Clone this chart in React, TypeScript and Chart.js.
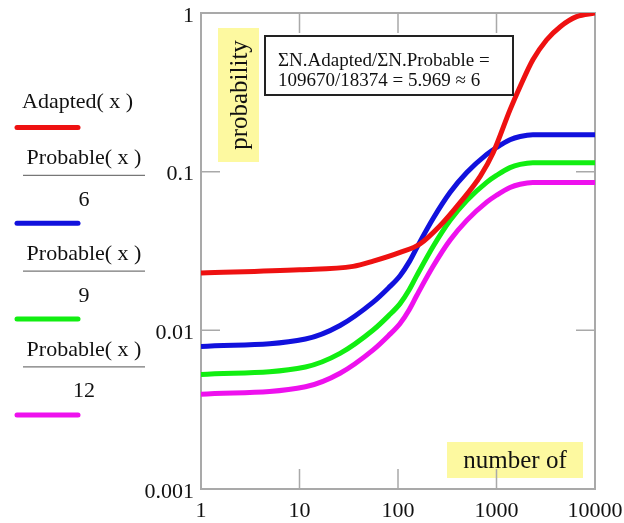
import React, { useEffect, useRef } from "react";
import { Chart, registerables } from "chart.js";

Chart.register(...registerables);

// ---- data ----
const xTicks = [1, 10, 100, 1000, 10000];
const yTicks = [0.001, 0.01, 0.1, 1];

const adaptedX = [1, 10, 35, 56, 105, 167, 267, 426, 685, 925, 1371, 1737, 2340, 3220, 4440, 6500, 10000];
const adaptedY = [0.023, 0.0241, 0.0253, 0.0273, 0.031, 0.035, 0.0456, 0.0638, 0.0938, 0.1316, 0.245, 0.344, 0.507, 0.676, 0.82, 0.948, 1.0];

const probableX = [1, 11.5, 25.8, 56, 80, 105, 130, 155, 228, 337, 499, 795, 1000, 1371, 1737, 2340, 10000];
const probableY = [0.0474, 0.0529, 0.0644, 0.0904, 0.111, 0.1326, 0.162, 0.199, 0.305, 0.443, 0.592, 0.771, 0.852, 0.954, 1.0, 1.026, 1.026];

const divisors = [6, 9, 12];

const seriesColors = ["#ee1111", "#1111dd", "#11ee11", "#ee11ee"];
const adaptedLabel = "Adapted( x )";
const probableLabel = "Probable( x )";
const annotationLines = ["\u03A3N.Adapted/\u03A3N.Probable =", "109670/18374 = 5.969 \u2248 6"];
const xAxisLabel = "number of";
const yAxisLabel = "probability";

const FONT = '"Liberation Serif", "Times New Roman", serif';

const decorPlugin = {
  id: "decor",
  beforeDatasetsDraw(chart: any) {
    const { ctx, chartArea } = chart;
    const xs = chart.scales.x;
    const ys = chart.scales.y;
    const { left, right, top, bottom } = chartArea;
    ctx.save();
    // yellow label boxes
    ctx.fillStyle = "#fdf9a0";
    ctx.fillRect(218, 28, 41, 134);
    ctx.fillRect(447, 442, 136, 36);
    // frame
    ctx.strokeStyle = "#a9a9a9";
    ctx.lineWidth = 2;
    ctx.strokeRect(left, top, right - left, bottom - top);
    // inner ticks
    ctx.lineWidth = 1.5;
    xTicks.forEach((v) => {
      const px = xs.getPixelForValue(v);
      ctx.beginPath();
      ctx.moveTo(px, bottom);
      ctx.lineTo(px, bottom - 20);
      ctx.moveTo(px, top);
      ctx.lineTo(px, top + 20);
      ctx.stroke();
    });
    yTicks.forEach((v) => {
      const py = ys.getPixelForValue(v);
      ctx.beginPath();
      ctx.moveTo(left, py);
      ctx.lineTo(left + 19, py);
      ctx.moveTo(right, py);
      ctx.lineTo(right - 19, py);
      ctx.stroke();
    });
    ctx.restore();
  },
  afterDraw(chart: any) {
    const { ctx } = chart;
    ctx.save();
    ctx.fillStyle = "#111";
    ctx.textBaseline = "alphabetic";

    // axis labels
    ctx.font = `25px ${FONT}`;
    ctx.textAlign = "center";
    ctx.fillText(xAxisLabel, 515, 468);
    ctx.save();
    ctx.translate(247, 95);
    ctx.rotate(-Math.PI / 2);
    ctx.fillText(yAxisLabel, 0, 0);
    ctx.restore();

    // annotation box
    ctx.fillStyle = "#ffffff";
    ctx.fillRect(265, 36, 248, 59);
    ctx.strokeStyle = "#222";
    ctx.lineWidth = 2;
    ctx.strokeRect(265, 36, 248, 59);
    ctx.fillStyle = "#111";
    ctx.font = `19px ${FONT}`;
    ctx.textAlign = "left";
    ctx.fillText(annotationLines[0], 278, 66);
    ctx.fillText(annotationLines[1], 278, 86);

    // legend
    const datasets = chart.data.datasets;
    const step = 95.8;
    ctx.font = `22px ${FONT}`;
    datasets.forEach((ds: any, k: number) => {
      const ly = 127.5 + step * k;
      ctx.fillStyle = "#111";
      if (k === 0) {
        ctx.textAlign = "left";
        ctx.fillText(adaptedLabel, 22, ly - 19.5);
      } else {
        ctx.textAlign = "center";
        ctx.fillText(probableLabel, 84, ly - 59);
        ctx.strokeStyle = "#777";
        ctx.lineWidth = 1.3;
        ctx.beginPath();
        ctx.moveTo(23, ly - 48);
        ctx.lineTo(145, ly - 48);
        ctx.stroke();
        ctx.fillText(String(divisors[k - 1]), 84, ly - 17.5);
      }
      ctx.strokeStyle = ds.borderColor;
      ctx.lineWidth = 5;
      ctx.lineCap = "round";
      ctx.beginPath();
      ctx.moveTo(17, ly);
      ctx.lineTo(78, ly);
      ctx.stroke();
      ctx.lineCap = "butt";
    });
    ctx.restore();
  },
};

export default function App() {
  const ref = useRef<HTMLCanvasElement | null>(null);

  useEffect(() => {
    if (!ref.current) return;
    const datasets: any[] = [
      {
        label: "Adapted(x)",
        data: adaptedX.map((x, i) => ({ x, y: adaptedY[i] })),
        borderColor: seriesColors[0],
      },
      ...divisors.map((d, j) => ({
        label: `Probable(x)/${d}`,
        data: probableX.map((x, i) => ({ x, y: probableY[i] / d })),
        borderColor: seriesColors[j + 1],
      })),
    ].map((ds) => ({
      ...ds,
      borderWidth: 5,
      pointRadius: 0,
      fill: false,
      cubicInterpolationMode: "monotone",
    }));

    const chart = new Chart(ref.current, {
      type: "line",
      data: { datasets },
      plugins: [decorPlugin],
      options: {
        animation: false,
        responsive: false,
        layout: { padding: { top: 13, right: 29, left: 0, bottom: 0 } },
        plugins: { legend: { display: false }, tooltip: { enabled: false }, title: { display: false } },
        scales: {
          x: {
            type: "logarithmic",
            min: 1,
            max: 10000,
            grid: { display: false, drawTicks: false },
            border: { display: false },
            afterBuildTicks: (s: any) => {
              s.ticks = xTicks.map((v) => ({ value: v }));
            },
            afterFit: (s: any) => {
              s.height = 34;
              s.paddingLeft = 0;
              s.paddingRight = 0;
            },
            ticks: {
              autoSkip: false,
              maxRotation: 0,
              padding: 9,
              color: "#111",
              font: { family: FONT, size: 22 },
              callback: (v: any) => String(v),
            },
          },
          y: {
            type: "logarithmic",
            min: 0.001,
            max: 1,
            grid: { display: false, drawTicks: false },
            border: { display: false },
            afterBuildTicks: (s: any) => {
              s.ticks = yTicks.map((v) => ({ value: v }));
            },
            afterFit: (s: any) => {
              s.width = 201;
              s.paddingTop = 0;
              s.paddingBottom = 0;
            },
            ticks: {
              autoSkip: false,
              padding: 7,
              labelOffset: 3,
              color: "#111",
              font: { family: FONT, size: 22 },
              callback: (v: any) => String(v),
            },
          },
        },
      } as any,
    });
    return () => chart.destroy();
  }, []);

  return (
    <div style={{ position: "fixed", left: 0, top: 0, width: 624, height: 523, background: "#fff" }}>
      <canvas ref={ref} width={624} height={523} />
    </div>
  );
}
